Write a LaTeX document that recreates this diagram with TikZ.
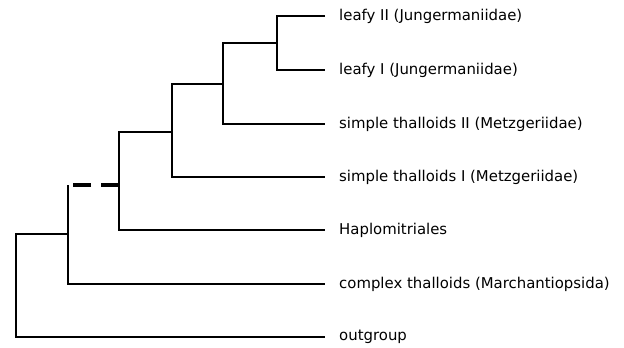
\documentclass[tikz,border=0pt]{standalone}
\usepackage{fontspec}
\setmainfont{DejaVu Sans}
\begin{document}
\begin{tikzpicture}[x=1pt,y=-1pt,
  branch/.style={line width=2pt, line join=miter},
  dashbranch/.style={line width=4.5pt, dash pattern=on 18pt off 10pt},
  taxon/.style={anchor=west, inner sep=0pt, font=\fontsize{14.9}{17}\selectfont}]
\useasboundingbox (0,0) rectangle (624,348);
% leaf ends
\coordinate (L1) at (325,16);
\coordinate (L2) at (325,70);
\coordinate (L3) at (325,124);
\coordinate (L4) at (325,177);
\coordinate (L5) at (325,230);
\coordinate (L6) at (325,284);
\coordinate (L7) at (325,337);
% internal nodes
\coordinate (n1) at (277,43);
\coordinate (n2) at (223,84);
\coordinate (n3) at (172,132);
\coordinate (n4) at (119,185);
\coordinate (n5t) at (68,185);
\coordinate (n5d) at (72,185);
\coordinate (n5) at (68,234);
\coordinate (root) at (16,337);
% branches
\draw[branch] (L1) -| (n1) |- (L2);
\draw[branch] (n1) -| (n2) |- (L3);
\draw[branch] (n2) -| (n3) |- (L4);
\draw[branch] (n3) -| (n4) |- (L5);
\draw[dashbranch] (n4) -- (n5d);
\draw[branch] (n5t) |- (L6);
\draw[branch] (n5) -| (root) -- (L7);
% labels
\node[taxon] (t1) at (339,16) {leafy II (Jungermaniidae)};
\node[taxon] (t2) at (339,70) {leafy I (Jungermaniidae)};
\node[taxon] (t3) at (339,124) {simple thalloids II (Metzgeriidae)};
\node[taxon] (t4) at (339,177) {simple thalloids I (Metzgeriidae)};
\node[taxon] (t5) at (339,230) {Haplomitriales};
\node[taxon] (t6) at (339,284) {complex thalloids (Marchantiopsida)};
\node[taxon] (t7) at (339,337) {outgroup};
\end{tikzpicture}
\end{document}
